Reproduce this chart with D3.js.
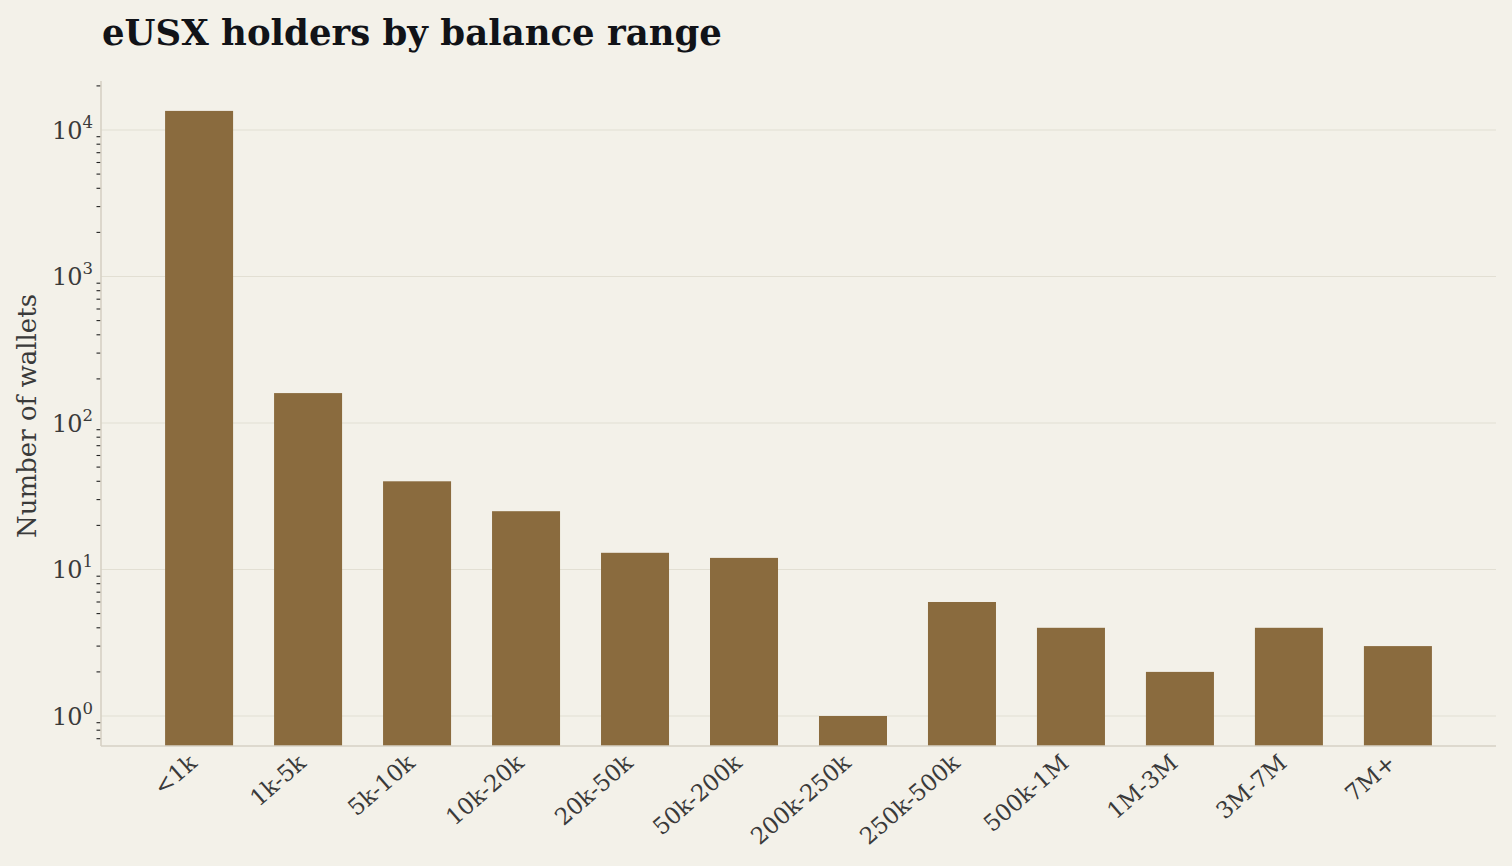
<!DOCTYPE html>
<html>
<head>
<meta charset="utf-8">
<script src="https://cdn.jsdelivr.net/npm/d3@7"></script>
<style>
  html, body { margin: 0; padding: 0; background: #f3f1e9; }
  svg { display: block; font-family: "DejaVu Serif", serif; }
</style>
</head>
<body>
<div id="chart"></div>
<script>
// bucket labels and wallet counts
const ranges = ["<1k", "1k-5k", "5k-10k", "10k-20k", "20k-50k", "50k-200k",
  "200k-250k", "250k-500k", "500k-1M", "1M-3M", "3M-7M", "7M+"];
const wallets = [13500, 160, 40, 25, 13, 12, 1, 6, 4, 2, 4, 3];
const decades = [1, 10, 100, 1000, 10000];

const W = 1512, H = 866;
const margin = { top: 81, right: 16, bottom: 120, left: 101 };
const width = W - margin.left - margin.right;
const height = H - margin.top - margin.bottom;

const svg = d3.select("#chart").append("svg")
  .attr("width", W)
  .attr("height", H);

svg.append("rect").attr("width", W).attr("height", H).attr("fill", "#f3f1e9");

svg.append("text")
  .attr("x", 102)
  .attr("y", 45)
  .attr("font-size", 35.5)
  .attr("font-weight", "bold")
  .attr("fill", "#111318")
  .text("eUSX holders by balance range");

const g = svg.append("g")
  .attr("transform", `translate(${margin.left},${margin.top})`);

const x = d3.scaleBand()
  .domain(ranges)
  .range([0, width])
  .paddingInner(0.376)
  .paddingOuter(0.588);

const y = d3.scaleLog()
  .domain([0.624, 21600])
  .range([height, 0]);

// grid at the decades
g.selectAll(".grid")
  .data(decades)
  .enter().append("line")
  .attr("x1", 0)
  .attr("x2", width)
  .attr("y1", d => y(d))
  .attr("y2", d => y(d))
  .attr("stroke", "#e2dfd3")
  .attr("stroke-width", 1.2);

g.selectAll(".bar")
  .data(wallets)
  .enter().append("rect")
  .attr("x", (d, i) => x(ranges[i]))
  .attr("y", d => y(d))
  .attr("width", x.bandwidth())
  .attr("height", d => height - y(d))
  .attr("fill", "#8a6b3e");

// minor ticks (2..9 of each decade)
const minor = [];
[0.1, 1, 10, 100, 1000, 10000].forEach(b => {
  for (let k = 2; k <= 9; k++) {
    const v = b * k;
    if (v >= y.domain()[0] && v <= y.domain()[1]) minor.push(v);
  }
});
g.selectAll(".minor")
  .data(minor)
  .enter().append("line")
  .attr("x1", -4.5)
  .attr("x2", 0)
  .attr("y1", d => y(d))
  .attr("y2", d => y(d))
  .attr("stroke", "#222")
  .attr("stroke-width", 1.1);

// y labels 10^n
const yl = g.selectAll(".ylab")
  .data(decades)
  .enter().append("text")
  .attr("x", -8)
  .attr("y", d => y(d) + 9)
  .attr("text-anchor", "end")
  .attr("fill", "#3a3a3a")
  .attr("font-size", 24);
yl.append("tspan").text("10");
yl.append("tspan")
  .attr("dy", -11)
  .attr("font-size", 16.5)
  .text(d => Math.round(Math.log10(d)));

// spines
g.append("line")
  .attr("x1", 0).attr("x2", 0).attr("y1", 0).attr("y2", height)
  .attr("stroke", "#d6d1c4").attr("stroke-width", 1.6);
g.append("line")
  .attr("x1", 0).attr("x2", width).attr("y1", height).attr("y2", height)
  .attr("stroke", "#d6d1c4").attr("stroke-width", 1.6);

// x labels
g.selectAll(".xlab")
  .data(ranges)
  .enter().append("text")
  .attr("transform", d => `translate(${x(d) + x.bandwidth() / 2 - 6},${height + 13}) rotate(-41)`)
  .attr("text-anchor", "end")
  .attr("dy", "0.35em")
  .attr("fill", "#3a3a3a")
  .attr("font-size", 23)
  .text(d => d);

svg.append("text")
  .attr("transform", `translate(36,${margin.top + 335}) rotate(-90)`)
  .attr("text-anchor", "middle")
  .attr("fill", "#3a3a3a")
  .attr("font-size", 26)
  .text("Number of wallets");
</script>
</body>
</html>
